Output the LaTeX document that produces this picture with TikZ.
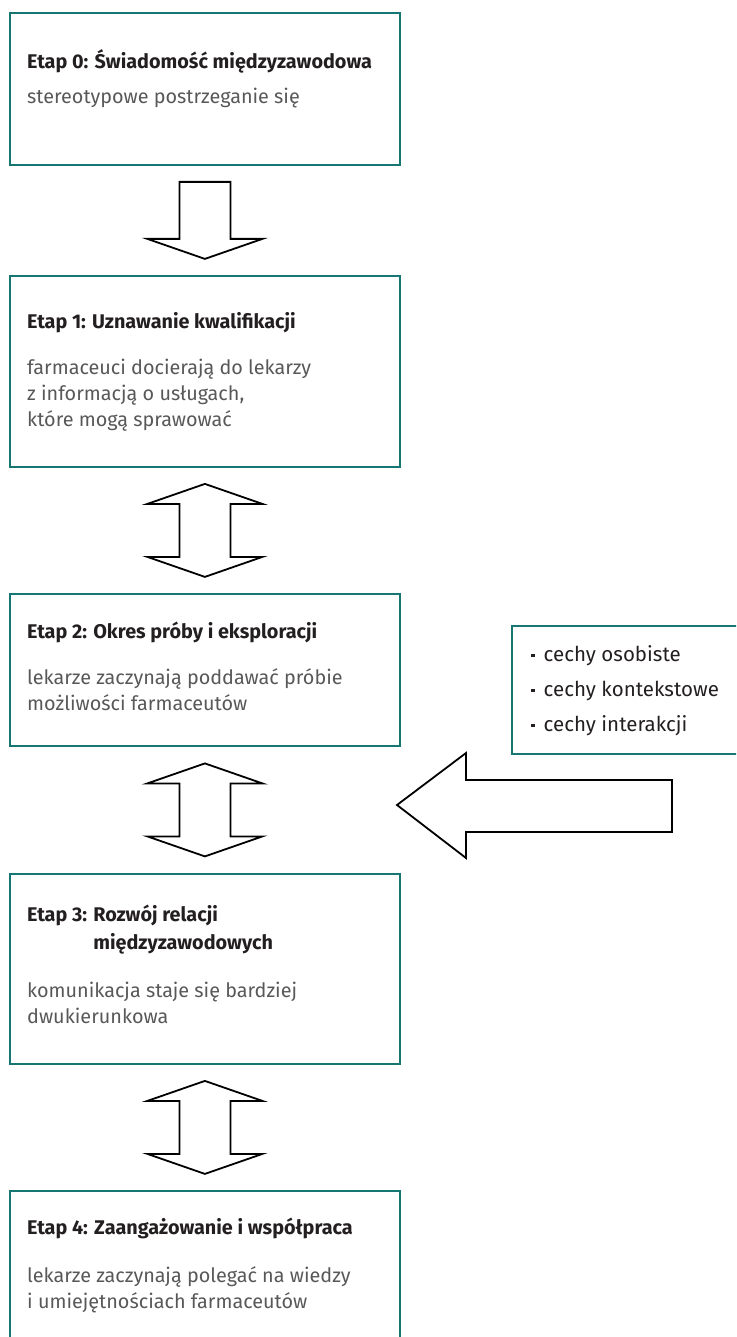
\documentclass[tikz,border=0pt]{standalone}
\usepackage{fontspec}
\setmainfont{Fira Sans}
\usetikzlibrary{calc}
\definecolor{boxteal}{RGB}{22,118,114}
\definecolor{bodygray}{RGB}{88,88,88}
\definecolor{headblack}{RGB}{35,31,32}

\begin{document}
\begin{tikzpicture}[x=1pt,y=-1pt]
\tikzstyle{stage}=[draw=boxteal, line width=1.8pt, anchor=north west, minimum width=390pt, inner sep=0pt]
\tikzstyle{head}=[anchor=base west, inner sep=0pt, align=left, text=headblack, font=\fontsize{19.8}{28}\selectfont\bfseries]
\tikzstyle{body}=[anchor=base west, inner sep=0pt, align=left, text=bodygray, font=\fontsize{19.8}{26}\selectfont]
\tikzstyle{side}=[anchor=base west, inner sep=0pt, text=headblack, font=\fontsize{20.5}{24}\selectfont]
\tikzstyle{blk}=[draw=black, line width=1.8pt, fill=white, line join=miter]
\clip (0,0) rectangle (736,1337);
% stages
\draw (9,12) node (s0) [stage, minimum height=152pt] {};
\draw (9,275) node (s1) [stage, minimum height=191pt] {};
\draw (9,593) node (s2) [stage, minimum height=152pt] {};
\draw (9,873) node (s3) [stage, minimum height=190pt] {};
\draw (9,1190) node (s4) [stage, minimum height=170pt] {};
\draw (511,625) node (cechy) [stage, minimum width=240pt, minimum height=128pt] {};
% texts (base = last line)
\node (h0) [head] at (27,69) {Etap 0: Świadomość międzyzawodowa};
\node (b0) [body] at (27,104) {stereotypowe postrzeganie się};
\node (h1) [head] at (27,328) {Etap 1: Uznawanie kwalifikacji};
\node (b1) [body] at (27,426) {farmaceuci docierają do lekarzy\\z informacją o usługach,\\które mogą sprawować};
\node (h2) [head] at (27,638) {Etap 2: Okres próby i eksploracji};
\node (b2) [body] at (27,710) {lekarze zaczynają poddawać próbie\\możliwości farmaceutów};
\node (h3) [head] at (27,949) {Etap 3: Rozwój relacji\\\phantom{Etap 3: }międzyzawodowych};
\node (b3) [body] at (27,1023) {komunikacja staje się bardziej\\dwukierunkowa};
\node (h4) [head] at (27,1234) {Etap 4: Zaangażowanie i współpraca};
\node (b4) [body] at (27,1308) {lekarze zaczynają polegać na wiedzy\\i umiejętnościach farmaceutów};
\node (c1) [side] at (531,661) {\raisebox{4pt}{\rule{3.5pt}{3.5pt}}\hspace{9pt}cechy osobiste};
\node (c2) [side] at (531,696) {\raisebox{4pt}{\rule{3.5pt}{3.5pt}}\hspace{9pt}cechy kontekstowe};
\node (c3) [side] at (531,731) {\raisebox{4pt}{\rule{3.5pt}{3.5pt}}\hspace{9pt}cechy interakcji};
% block arrows
\path ($(s0.south)!.5!(s1.north)$) coordinate (g0);
\draw[blk] ($(g0)+(-25.5,-38.5)$) -- ++(51,0) -- ++(0,57) -- ++(32,0) -- ($(g0)+(0,38.5)$) -- ++(-57.5,-20) -- ++(32,0) -- cycle;
\foreach \a/\b/\g in {s1/s2/g1, s2/s3/g2, s3/s4/g3} {
  \path ($(\a.south)!.5!(\b.north)$) coordinate (\g);
  \draw[blk] ($(\g)+(0,-46.5)$) -- ++(57.5,20) -- ++(-32,0) -- ++(0,53) -- ++(32,0) -- ($(\g)+(0,46.5)$) -- ++(-57.5,-20) -- ++(32,0) -- ++(0,-53) -- ++(-32,0) -- cycle;
}
\coordinate (tip) at (397,805);
\draw[blk] (tip) -- (466,753) -- (466,780) -- (672,780) -- (672,832) -- (466,832) -- (466,858) -- cycle;
\end{tikzpicture}
\end{document}
